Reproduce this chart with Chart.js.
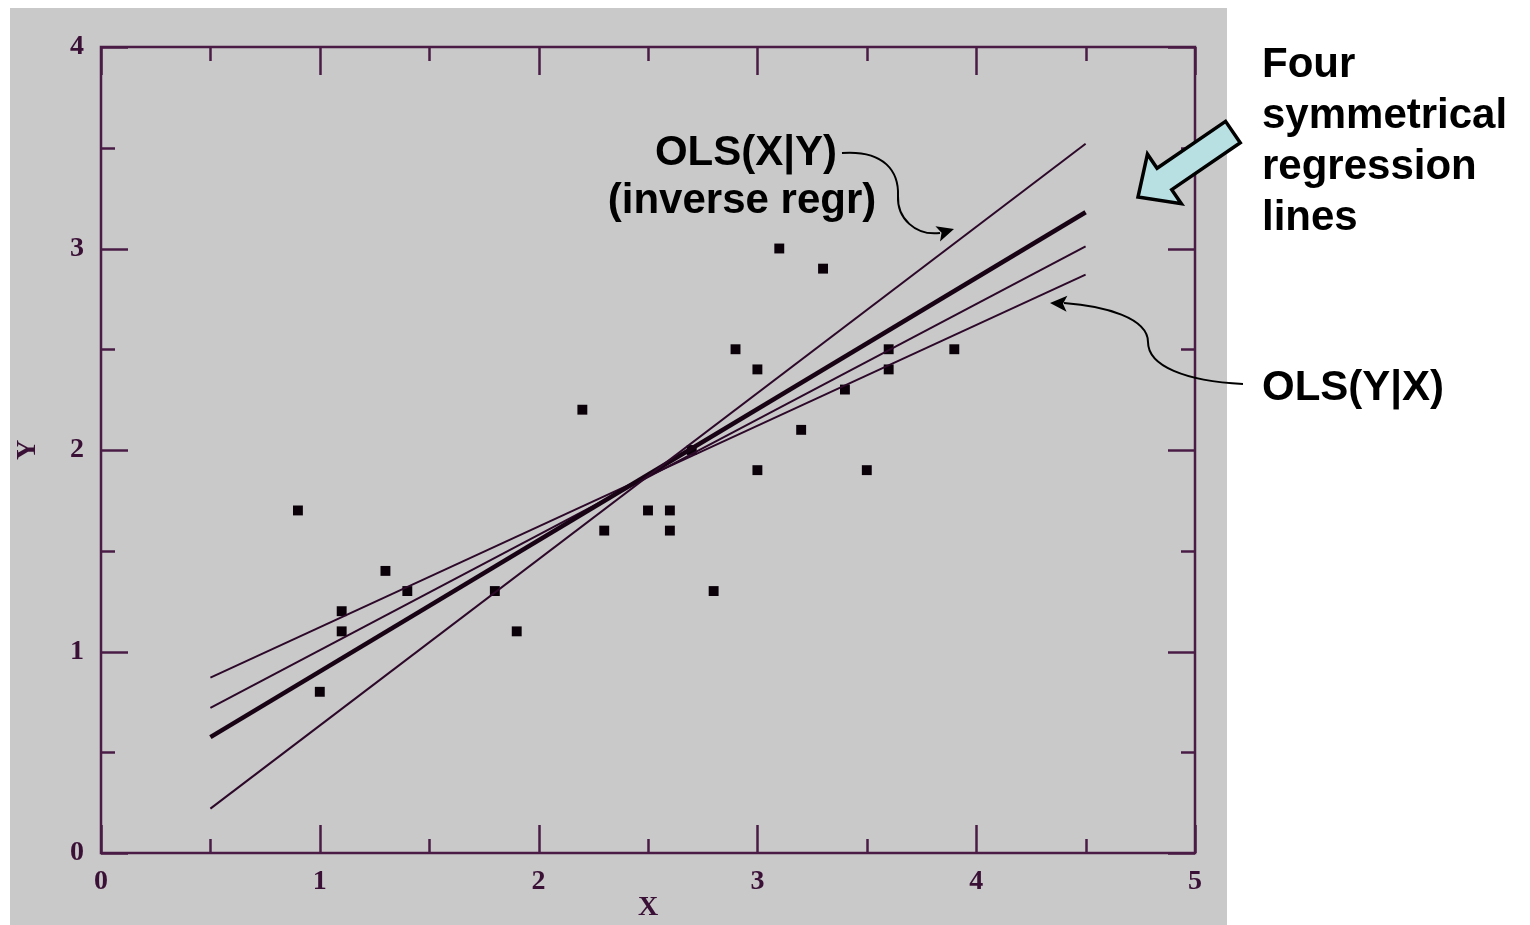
<!DOCTYPE html>
<html>
<head>
<meta charset="utf-8">
<title>Symmetrical regression lines</title>
<script src="https://cdn.jsdelivr.net/npm/chart.js@4/dist/chart.umd.min.js"></script>
<style>
  html, body { margin: 0; padding: 0; background: #ffffff; }
  #wrap { width: 1530px; height: 925px; }
</style>
</head>
<body>
<div id="wrap"><canvas id="c" width="1530" height="925"></canvas></div>
<script>
// Axis ticks
const xTickValues = [0, 1, 2, 3, 4, 5];
const yTickValues = [0, 1, 2, 3, 4];

// Observations
const pointX = [0.9, 1.0, 1.1, 1.1, 1.3, 1.4, 1.8, 1.9, 2.2, 2.3, 2.5, 2.6, 2.6, 2.7, 2.8, 2.9, 3.0, 3.0, 3.1, 3.2, 3.3, 3.4, 3.5, 3.6, 3.6, 3.9];
const pointY = [1.7, 0.8, 1.2, 1.1, 1.4, 1.3, 1.3, 1.1, 2.2, 1.6, 1.7, 1.7, 1.6, 2.0, 1.3, 2.5, 2.4, 1.9, 3.0, 2.1, 2.9, 2.3, 1.9, 2.5, 2.4, 2.5];

// Regression lines: value of Y at the two ends of lineX
const lineX = [0.5, 4.5];
const olsXgivenY = [0.22, 3.52];
const bisectorY = [0.575, 3.18];
const majorAxisY = [0.72, 3.01];
const olsYgivenX = [0.87, 2.87];

const axisInk = '#4a1c45';
const lineInk = '#2c0829';
const labelInk = '#3a1036';

function linePoints(ys) {
  return lineX.map((x, i) => ({ x: x, y: ys[i] }));
}

// Page background: white with a grey plotting panel
const panelPlugin = {
  id: 'panel',
  beforeDraw(chart) {
    const ctx = chart.ctx;
    ctx.save();
    ctx.fillStyle = '#ffffff';
    ctx.fillRect(0, 0, chart.width, chart.height);
    ctx.fillStyle = '#c9c9c9';
    ctx.fillRect(10, 8, 1217, 917);
    ctx.restore();
  }
};

// Box frame with inward major and minor ticks on all four sides
const framePlugin = {
  id: 'frame',
  beforeDatasetsDraw(chart) {
    const { ctx, chartArea: a, scales: { x, y } } = chart;
    ctx.save();
    ctx.strokeStyle = axisInk;
    ctx.lineWidth = 2.5;
    ctx.strokeRect(a.left, a.top, a.right - a.left, a.bottom - a.top);
    ctx.beginPath();
    for (let v = x.min; v <= x.max + 1e-9; v += 0.5) {
      const px = Math.round(x.getPixelForValue(v)) + 0.5;
      const len = Number.isInteger(v) ? 28 : 14;
      ctx.moveTo(px, a.bottom); ctx.lineTo(px, a.bottom - len);
      ctx.moveTo(px, a.top); ctx.lineTo(px, a.top + len);
    }
    for (let v = y.min; v <= y.max + 1e-9; v += 0.5) {
      const py = Math.round(y.getPixelForValue(v)) + 0.5;
      const len = Number.isInteger(v) ? 27 : 14;
      ctx.moveTo(a.left, py); ctx.lineTo(a.left + len, py);
      ctx.moveTo(a.right, py); ctx.lineTo(a.right - len, py);
    }
    ctx.stroke();
    ctx.restore();
  }
};

function arrowHead(ctx, tipX, tipY, dx, dy, len, half) {
  const m = Math.hypot(dx, dy);
  const ux = dx / m, uy = dy / m;
  const bx = tipX - ux * len, by = tipY - uy * len;
  ctx.beginPath();
  ctx.moveTo(tipX, tipY);
  ctx.lineTo(bx - uy * half, by + ux * half);
  ctx.lineTo(bx + ux * 4, by + uy * 4);
  ctx.lineTo(bx + uy * half, by - ux * half);
  ctx.closePath();
  ctx.fill();
}

// Labels, callout curves and the block arrow
const notesPlugin = {
  id: 'notes',
  afterDraw(chart) {
    const ctx = chart.ctx;
    ctx.save();
    ctx.fillStyle = '#000000';
    ctx.font = 'bold 42px "Liberation Sans", Arial, sans-serif';
    ctx.textBaseline = 'alphabetic';

    ctx.textAlign = 'center';
    ctx.fillText('OLS(X|Y)', 746, 165);
    ctx.fillText('(inverse regr)', 742, 213);

    ctx.textAlign = 'left';
    ctx.fillText('Four', 1262, 77);
    ctx.fillText('symmetrical', 1262, 128);
    ctx.fillText('regression', 1262, 179);
    ctx.fillText('lines', 1262, 230);
    ctx.fillText('OLS(Y|X)', 1262, 400);

    // callout to the inverse regression line
    ctx.strokeStyle = '#000000';
    ctx.lineWidth = 2;
    ctx.beginPath();
    ctx.moveTo(842, 153);
    ctx.bezierCurveTo(885, 150, 899, 172, 898, 196);
    ctx.bezierCurveTo(897, 218, 915, 236, 940, 233);
    ctx.stroke();
    arrowHead(ctx, 954, 229, 1, -0.3, 17, 8);

    // callout to the OLS(Y|X) line
    ctx.beginPath();
    ctx.moveTo(1243, 384);
    ctx.bezierCurveTo(1185, 381, 1148, 366, 1148, 342);
    ctx.bezierCurveTo(1148, 318, 1105, 306, 1064, 303);
    ctx.stroke();
    arrowHead(ctx, 1050, 303, -1, -0.05, 17, 8);

    // light blue block arrow
    const tx = 1138, ty = 197;
    const m = Math.hypot(95, -65);
    const dx = 95 / m, dy = -65 / m;
    const nx = -dy, ny = dx;
    const head = 32, wing = 30, shaft = 13, tail = 115;
    const bx = tx + dx * head, by = ty + dy * head;
    const ex = tx + dx * tail, ey = ty + dy * tail;
    ctx.beginPath();
    ctx.moveTo(tx, ty);
    ctx.lineTo(bx + nx * wing, by + ny * wing);
    ctx.lineTo(bx + nx * shaft, by + ny * shaft);
    ctx.lineTo(ex + nx * shaft, ey + ny * shaft);
    ctx.lineTo(ex - nx * shaft, ey - ny * shaft);
    ctx.lineTo(bx - nx * shaft, by - ny * shaft);
    ctx.lineTo(bx - nx * wing, by - ny * wing);
    ctx.closePath();
    ctx.fillStyle = '#b8e0e2';
    ctx.fill();
    ctx.lineWidth = 3.5;
    ctx.lineJoin = 'miter';
    ctx.strokeStyle = '#000000';
    ctx.stroke();
    ctx.restore();
  }
};

const tickFont = { family: '"Liberation Serif", "DejaVu Serif", serif', size: 28, weight: 'bold', lineHeight: 1.2 };

new Chart(document.getElementById('c'), {
  type: 'scatter',
  data: {
    datasets: [
      { label: 'OLS(X|Y)', data: linePoints(olsXgivenY), showLine: true, borderColor: lineInk, borderWidth: 2, pointRadius: 0 },
      { label: 'bisector', data: linePoints(bisectorY), showLine: true, borderColor: '#170314', borderWidth: 4.5, pointRadius: 0 },
      { label: 'major axis', data: linePoints(majorAxisY), showLine: true, borderColor: lineInk, borderWidth: 2, pointRadius: 0 },
      { label: 'OLS(Y|X)', data: linePoints(olsYgivenX), showLine: true, borderColor: lineInk, borderWidth: 2, pointRadius: 0 },
      {
        label: 'data',
        data: pointX.map((x, i) => ({ x: x, y: pointY[i] })),
        showLine: false,
        pointStyle: 'rect',
        pointRadius: 7,
        backgroundColor: '#0a0008',
        borderColor: '#0a0008',
        borderWidth: 0
      }
    ]
  },
  options: {
    responsive: false,
    animation: false,
    events: [],
    layout: { padding: { left: 0, top: 47, right: 335, bottom: 0 } },
    plugins: { legend: { display: false }, tooltip: { enabled: false } },
    scales: {
      x: {
        type: 'linear',
        min: 0,
        max: 5,
        afterFit(scale) { scale.height = 72; },
        afterBuildTicks(scale) { scale.ticks = xTickValues.map(v => ({ value: v })); },
        grid: { display: false },
        border: { display: false },
        ticks: { color: labelInk, font: tickFont, padding: 4, maxRotation: 0 },
        title: { display: true, text: 'X', color: labelInk, font: tickFont, padding: { top: 0, bottom: 0 } }
      },
      y: {
        type: 'linear',
        min: 0,
        max: 4,
        afterFit(scale) { scale.width = 101; },
        afterBuildTicks(scale) { scale.ticks = yTickValues.map(v => ({ value: v })); },
        grid: { display: false },
        border: { display: false },
        ticks: { color: labelInk, font: tickFont, padding: 9 },
        title: { display: true, text: 'Y', color: labelInk, font: tickFont, padding: { top: 11, bottom: 0 } }
      }
    }
  },
  plugins: [panelPlugin, framePlugin, notesPlugin]
});
</script>
</body>
</html>
